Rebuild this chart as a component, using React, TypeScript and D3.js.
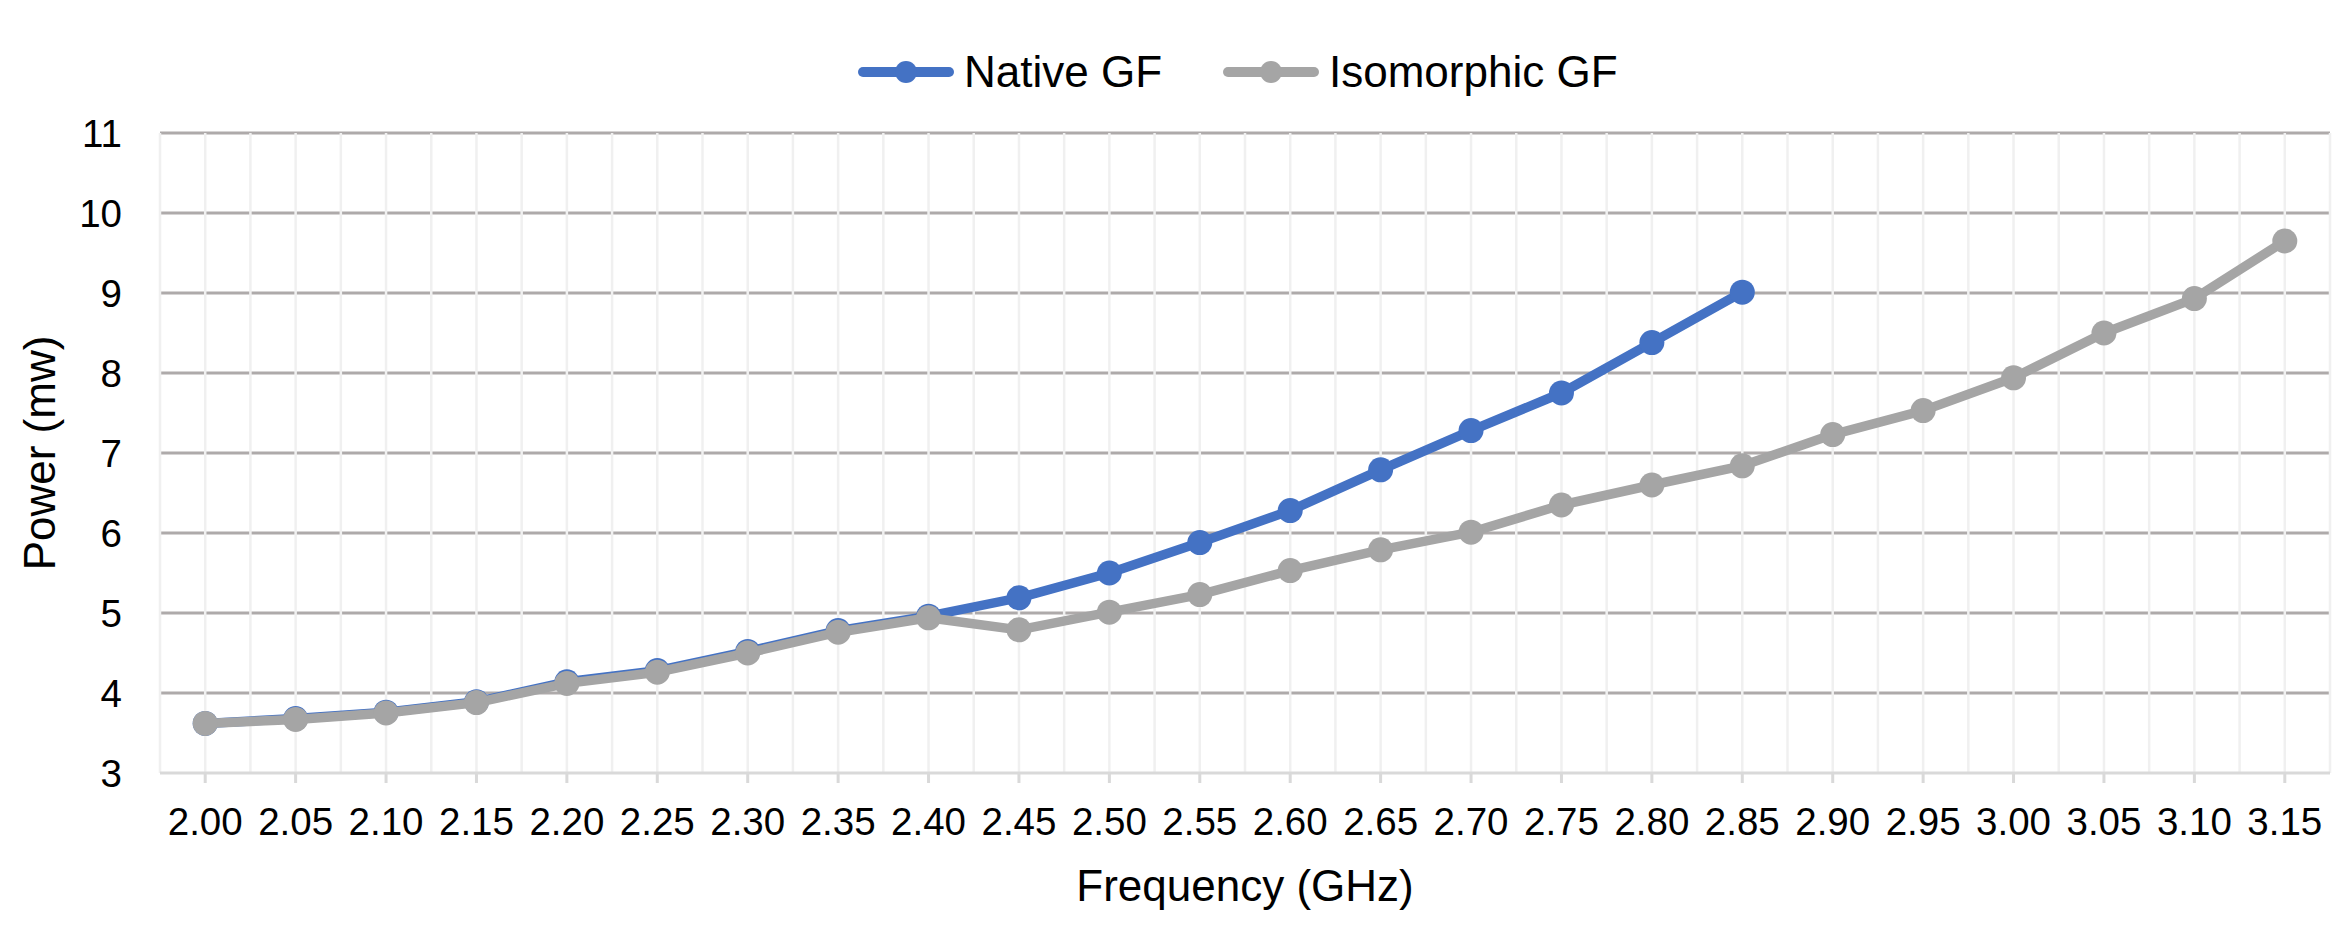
import { FC, useEffect, useRef } from "react";
import * as d3 from "d3";

const categories = [
  "2.00", "2.05", "2.10", "2.15", "2.20", "2.25", "2.30", "2.35",
  "2.40", "2.45", "2.50", "2.55", "2.60", "2.65", "2.70", "2.75",
  "2.80", "2.85", "2.90", "2.95", "3.00", "3.05", "3.10", "3.15",
];

// Native GF stops at 2.85 GHz
const nativeGF = [
  3.62, 3.68, 3.76, 3.89, 4.14, 4.28, 4.52, 4.78,
  4.96, 5.19, 5.5, 5.88, 6.28, 6.79, 7.28, 7.75,
  8.38, 9.01,
];

const isomorphicGF = [
  3.62, 3.67, 3.75, 3.88, 4.12, 4.26, 4.5, 4.76,
  4.94, 4.79, 5.01, 5.23, 5.53, 5.79, 6.01, 6.35,
  6.6, 6.84, 7.23, 7.53, 7.94, 8.5, 8.93, 9.65,
];

const yTicks = [3, 4, 5, 6, 7, 8, 9, 10, 11];

const seriesNames = ["Native GF", "Isomorphic GF"];
const seriesColors = ["#4472C4", "#A5A5A5"];

const App: FC = () => {
  const ref = useRef<SVGSVGElement>(null);
  const width = 2352;
  const height = 936;
  const margin = { top: 133, right: 22, bottom: 163, left: 160 };
  const font = "'Liberation Sans', Arial, sans-serif";

  const runChart = () => {
    const svg = d3.select(ref.current);
    svg.selectAll("*").remove();

    const x = d3
      .scaleBand()
      .domain(categories)
      .range([margin.left, width - margin.right]);
    const half = x.bandwidth() / 2;
    const cx = (c: string) => (x(c) as number) + half;

    const y = d3
      .scaleLinear()
      .domain([3, 11])
      .range([height - margin.bottom, margin.top]);

    svg.append("rect").attr("width", width).attr("height", height).attr("fill", "#fff");

    // horizontal gridlines (darker)
    svg
      .append("g")
      .selectAll("line")
      .data(yTicks.filter((t) => t > 3))
      .join("line")
      .attr("x1", margin.left)
      .attr("x2", width - margin.right)
      .attr("y1", (d) => y(d))
      .attr("y2", (d) => y(d))
      .attr("stroke", "#AEAAAA")
      .attr("stroke-width", 3);

    // vertical light gridlines at band edges and centres
    const vLines: number[] = [];
    categories.forEach((c) => {
      vLines.push(x(c) as number);
      vLines.push(cx(c));
    });
    vLines.push(width - margin.right);
    svg
      .append("g")
      .selectAll("line")
      .data(vLines)
      .join("line")
      .attr("x1", (d) => d)
      .attr("x2", (d) => d)
      .attr("y1", margin.top)
      .attr("y2", height - margin.bottom)
      .attr("stroke", "#F0F0F0")
      .attr("stroke-width", 2.5);

    // x axis line + ticks
    const axisY = y(3);
    svg
      .append("line")
      .attr("x1", margin.left)
      .attr("x2", width - margin.right)
      .attr("y1", axisY)
      .attr("y2", axisY)
      .attr("stroke", "#D9D9D9")
      .attr("stroke-width", 3);
    svg
      .append("g")
      .selectAll("line")
      .data(categories)
      .join("line")
      .attr("x1", (d) => cx(d))
      .attr("x2", (d) => cx(d))
      .attr("y1", axisY)
      .attr("y2", axisY + 10)
      .attr("stroke", "#D9D9D9")
      .attr("stroke-width", 3);

    // tick labels
    svg
      .append("g")
      .attr("font-family", font)
      .attr("font-size", 38.5)
      .attr("text-anchor", "middle")
      .selectAll("text")
      .data(categories)
      .join("text")
      .attr("x", (d) => cx(d))
      .attr("y", 835)
      .text((d) => d);

    svg
      .append("g")
      .attr("font-family", font)
      .attr("font-size", 38.5)
      .attr("text-anchor", "end")
      .selectAll("text")
      .data(yTicks)
      .join("text")
      .attr("x", 122)
      .attr("y", (d) => y(d))
      .attr("dy", "0.36em")
      .text((d) => d);

    // axis titles
    svg
      .append("text")
      .attr("font-family", font)
      .attr("font-size", 44)
      .attr("text-anchor", "middle")
      .attr("x", (margin.left + width - margin.right) / 2)
      .attr("y", 901)
      .text("Frequency (GHz)");
    svg
      .append("text")
      .attr("font-family", font)
      .attr("font-size", 44)
      .attr("text-anchor", "middle")
      .attr("transform", `translate(55, ${(y(3) + y(11)) / 2}) rotate(-90)`)
      .text("Power (mw)");

    // series (grey drawn last, sits on top of blue where they overlap)
    const allSeries = [nativeGF, isomorphicGF];
    const line = d3
      .line<number>()
      .x((_, i) => cx(categories[i]))
      .y((d) => y(d));

    allSeries.forEach((values, si) => {
      const g = svg.append("g");
      g.append("path")
        .datum(values)
        .attr("d", line)
        .attr("fill", "none")
        .attr("stroke", seriesColors[si])
        .attr("stroke-width", 9.5)
        .attr("stroke-linejoin", "round");
      g.selectAll("circle")
        .data(values)
        .join("circle")
        .attr("cx", (_, i) => cx(categories[i]))
        .attr("cy", (d) => y(d))
        .attr("r", 12.5)
        .attr("fill", seriesColors[si]);
    });

    // legend
    const legendX = [858, 1223];
    const legendY = 72;
    const lg = svg.append("g");
    seriesNames.forEach((name, i) => {
      lg.append("line")
        .attr("x1", legendX[i] + 5)
        .attr("x2", legendX[i] + 91)
        .attr("y1", legendY)
        .attr("y2", legendY)
        .attr("stroke", seriesColors[i])
        .attr("stroke-width", 10)
        .attr("stroke-linecap", "round");
      lg.append("circle")
        .attr("cx", legendX[i] + 48)
        .attr("cy", legendY)
        .attr("r", 11)
        .attr("fill", seriesColors[i]);
      lg.append("text")
        .attr("font-family", font)
        .attr("font-size", 44)
        .attr("x", legendX[i] + 106)
        .attr("y", legendY + 15)
        .text(name);
    });
  };

  useEffect(() => {
    runChart();
  }, []);

  return (
    <div style={{ position: "absolute", left: 0, top: 0 }}>
      <svg ref={ref} width={width} height={height} style={{ display: "block" }} />
    </div>
  );
};

export default App;
